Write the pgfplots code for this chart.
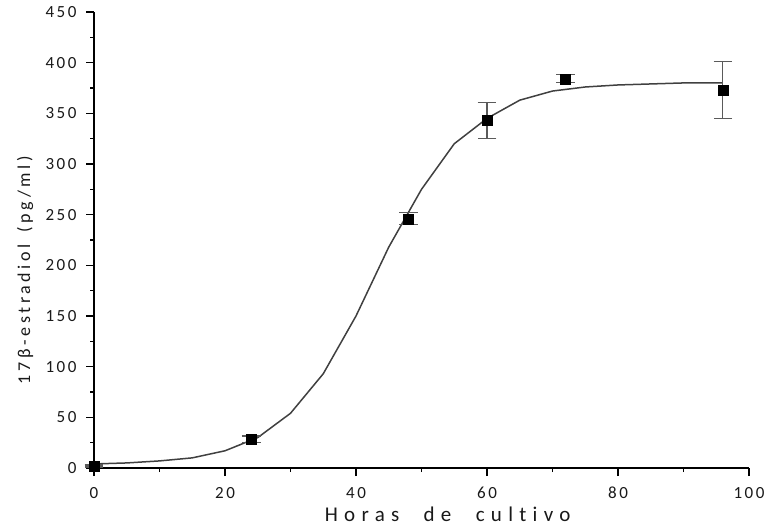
\documentclass[border=0pt]{standalone}
\usepackage{fontspec}
\setmainfont{Carlito}
\newfontfamily\tickfont[LetterSpace=15]{Carlito}
\newfontfamily\labelfont[LetterSpace=30, Ligatures={NoCommon}, WordSpace=2.2]{Carlito}
\newfontfamily\ylabelfont[LetterSpace=20, Ligatures={NoCommon}, WordSpace=1.5]{Carlito}
\usepackage{pgfplots}
\pgfplotsset{compat=1.18}

\definecolor{curvegray}{HTML}{404040}
\definecolor{bargray}{HTML}{5A5A5A}

% measured estradiol concentration: time, mean, error
\pgfplotstableread{
x  y     e
0  2     1
24 28.6  3
48 246   6
60 343   17.5
72 384   4
96 373   28.5
}\measured

% fitted sigmoid curve
\pgfplotstableread{
x  y
0  4
5  5
10 7
15 10
20 17
25 30
30 54
35 93
40 150
45 218
50 275
55 320
60 345
65 363
70 372
75 376
80 378
85 379
90 380
96 380
}\fitted

\begin{document}
\begin{tikzpicture}
\useasboundingbox (-94pt,-63pt) rectangle (671pt,468pt);
\begin{axis}[
  scale only axis,
  width=655pt, height=456pt,
  xmin=0, xmax=100, ymin=0, ymax=450,
  axis lines=left,
  axis line style={-, line width=1.6pt},
  tick align=outside,
  major tick length=8pt, minor tick length=4pt,
  every tick/.style={line width=1.3pt, black},
  xtick={0,20,...,100}, minor xtick={10,30,50,70,90},
  ytick={0,50,...,450}, minor ytick={25,75,...,425},
  /pgf/number format/assume math mode=true,
  tick label style={font=\tickfont\fontsize{17}{19}\selectfont, text=black!90},
  xticklabel style={anchor=base, yshift=-22pt},
  yticklabel style={anchor=east, xshift=-6pt},
  xlabel={Horas de cultivo},
  ylabel={17β-estradiol (pg/ml)},
  xlabel style={font=\labelfont\fontsize{21}{24}\selectfont, text=black!90,
    at={(axis description cs:0.54,-0.1178)}, anchor=base},
  ylabel style={font=\ylabelfont\fontsize{18}{21}\selectfont, text=black!90,
    at={(axis description cs:-0.0977,0.434)}, anchor=base, rotate=0},
  clip=false,
]
\addplot[curvegray, line width=1.5pt] table[x=x, y=y] {\fitted};
\addplot[only marks, black, mark=square*, mark size=5pt,
  error bars/.cd, y dir=both, y explicit,
  error bar style={line width=1.1pt, bargray},
  error mark options={rotate=90, mark size=9.3pt, line width=1.1pt, bargray}]
  table[x=x, y=y, y error=e] {\measured};
\end{axis}
\end{tikzpicture}
\end{document}
